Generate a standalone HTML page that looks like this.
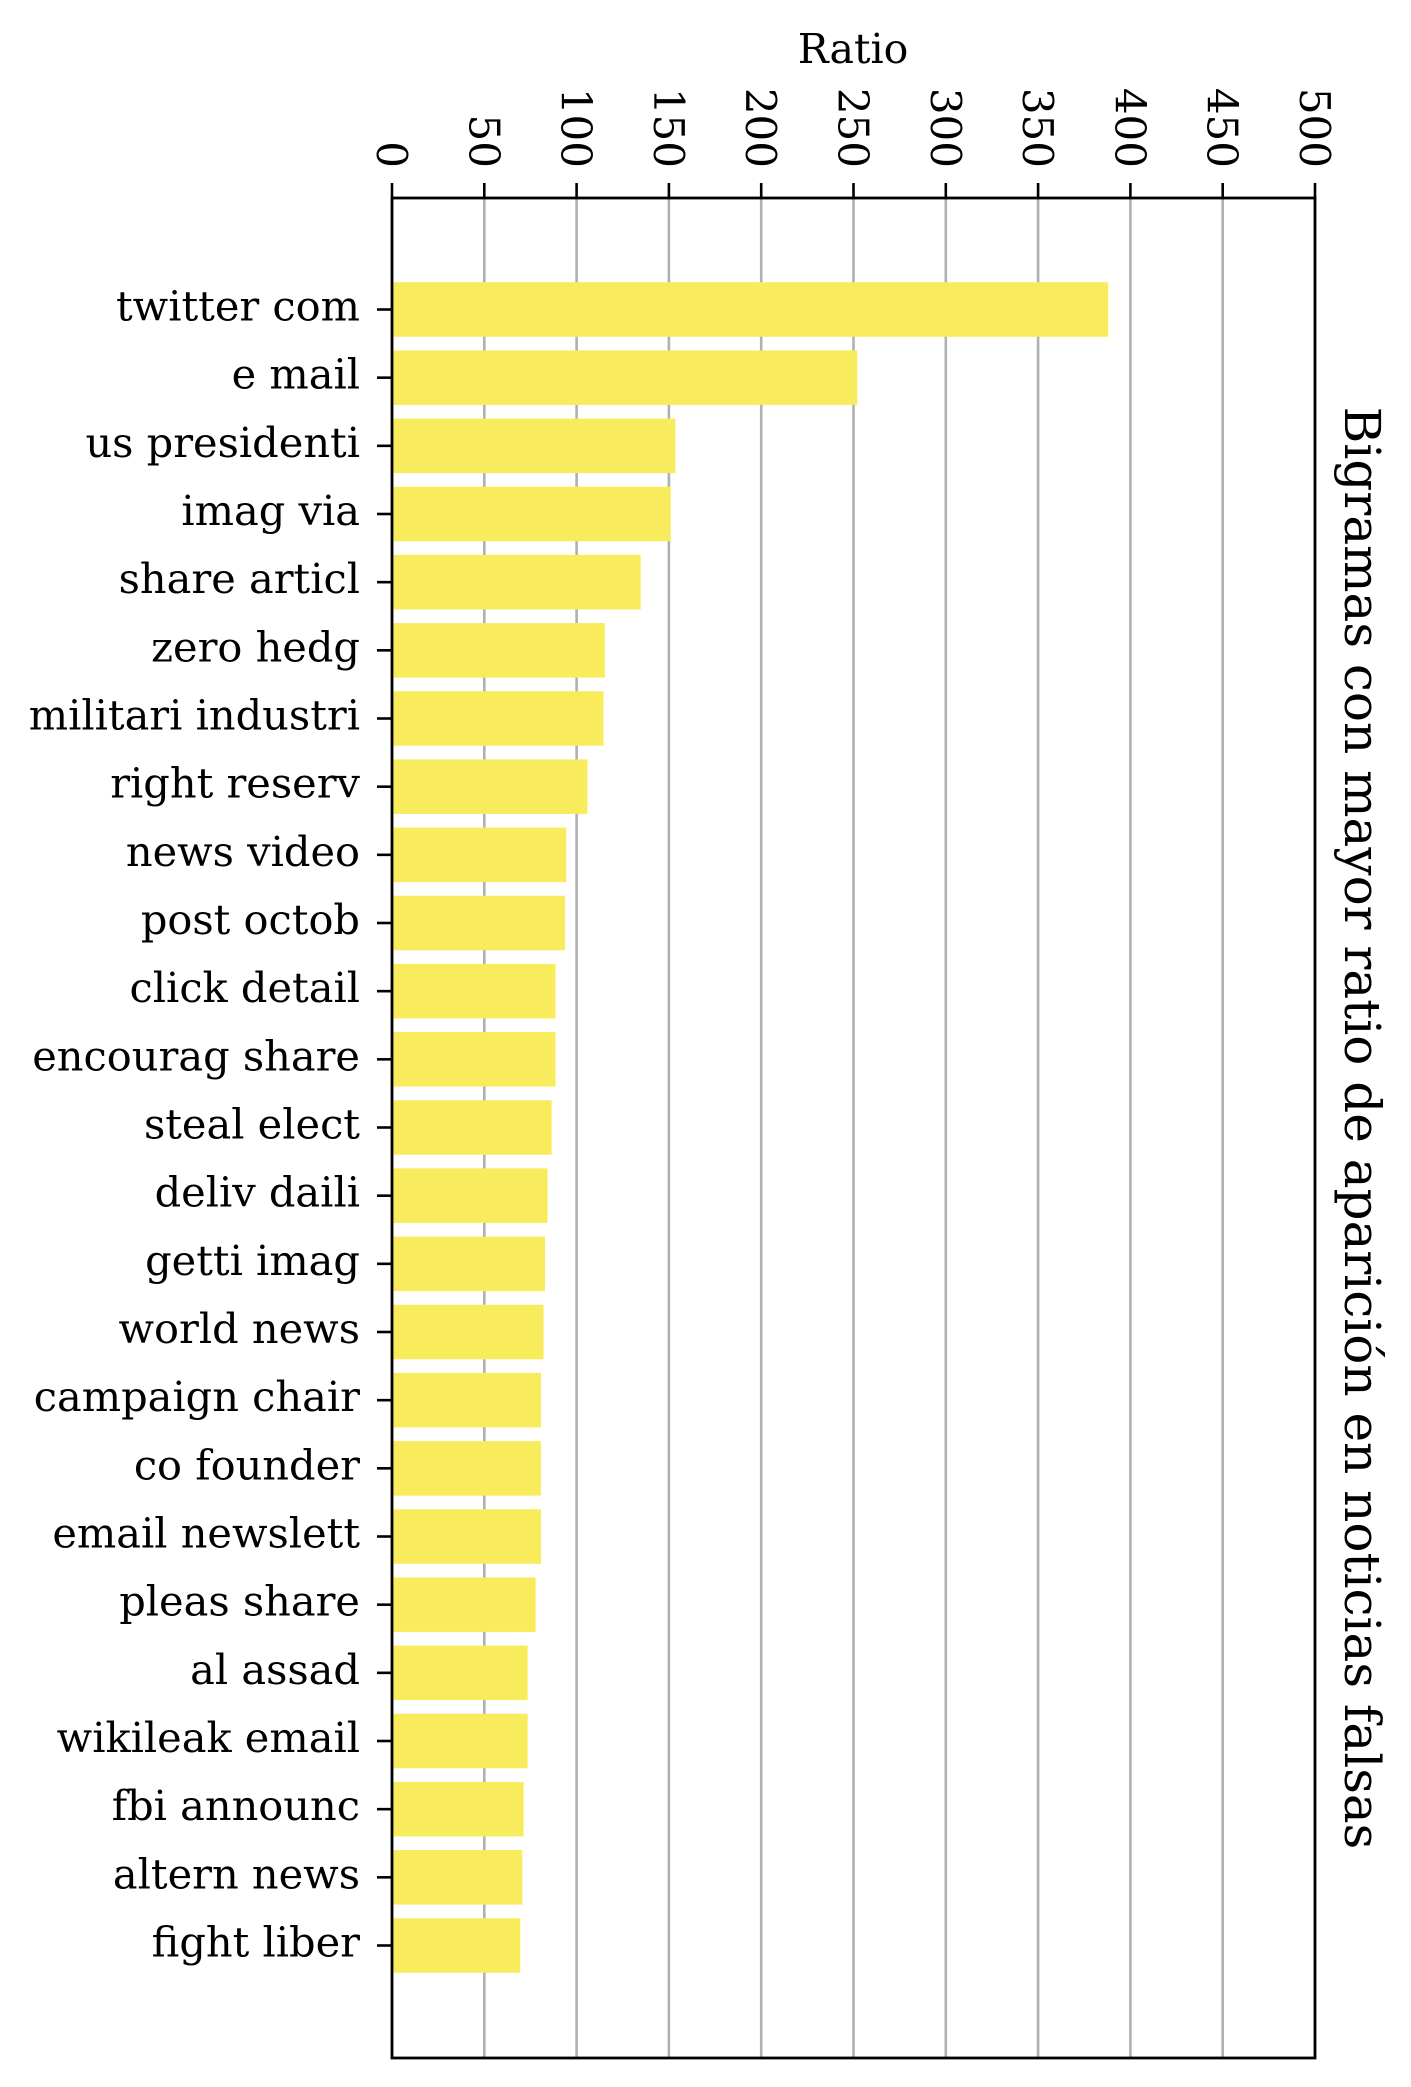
<!DOCTYPE html>
<html><head><meta charset="utf-8"><style>
html,body{margin:0;padding:0;background:#fff;}
svg{display:block;font-family:"DejaVu Serif","Liberation Serif",serif;}
</style></head><body>
<svg id="chart" width="1411" height="2087" viewBox="0 0 1411 2087" xmlns="http://www.w3.org/2000/svg">
<g id="grid"></g>
<g id="bars"></g>
<g id="axes"></g>
<text x="853" y="63" font-size="41" text-anchor="middle">Ratio</text>
<text transform="translate(1345,1128) rotate(90)" font-size="50" text-anchor="middle">Bigramas con mayor ratio de aparición en noticias falsas</text>
</svg>
<script>
const categories = ["twitter com","e mail","us presidenti","imag via","share articl","zero hedg","militari industri","right reserv","news video","post octob","click detail","encourag share","steal elect","deliv daili","getti imag","world news","campaign chair","co founder","email newslett","pleas share","al assad","wikileak email","fbi announc","altern news","fight liber"];
const values = [388,252,153.5,151,134.7,115.3,114.6,105.9,94.4,93.7,88.6,88.6,86.5,84.3,82.9,82.1,80.7,80.7,80.7,77.8,73.5,73.5,71.3,70.6,69.5];
const xTicks = [0,50,100,150,200,250,300,350,400,450,500];

const L=392,R=1315,T=198,B=2058;
const xMax=500;
const x=v=>L+(v/xMax)*(R-L);
const step=(1945.5-309.5)/(categories.length-1);
const y=i=>309.5+i*step;
const bh=step*0.8;
const NS="http://www.w3.org/2000/svg";
function mk(tag,attrs,parent){const e=document.createElementNS(NS,tag);for(const k in attrs)e.setAttribute(k,attrs[k]);parent.appendChild(e);return e;}
const grid=document.getElementById('grid'),bars=document.getElementById('bars'),axes=document.getElementById('axes');

xTicks.forEach(t=>{
  const g=mk('line',{x1:x(t),x2:x(t),y1:T,y2:B,stroke:'#b0b0b0','stroke-width':2.6},grid);
  
  
  const tk=mk('line',{x1:x(t),x2:x(t),y1:T-15,y2:T,stroke:'#000','stroke-width':2.6},axes);
  
  
  const lb=mk('text',{transform:`translate(${x(t)-15},${T-30}) rotate(90)`,'font-size':42,'text-anchor':'end'},axes);
  lb.textContent=t;
  
  
});

categories.forEach((c,i)=>{
  const r=mk('rect',{x:L,y:y(i)-bh/2,width:x(values[i])-L,height:bh,fill:'#f9ec5c'},bars);
  
  
  const tk=mk('line',{x1:L-15,x2:L,y1:y(i),y2:y(i),stroke:'#000','stroke-width':2.6},axes);
  
  
  const lb=mk('text',{x:L-32,y:y(i)+11,'font-size':41.5,'text-anchor':'end'},axes);
  lb.textContent=c;
  
  
});

const frame=mk('rect',{x:L,y:T,width:R-L,height:B-T,fill:'none',stroke:'#000','stroke-width':2.8},axes);


</script>
</body></html>
